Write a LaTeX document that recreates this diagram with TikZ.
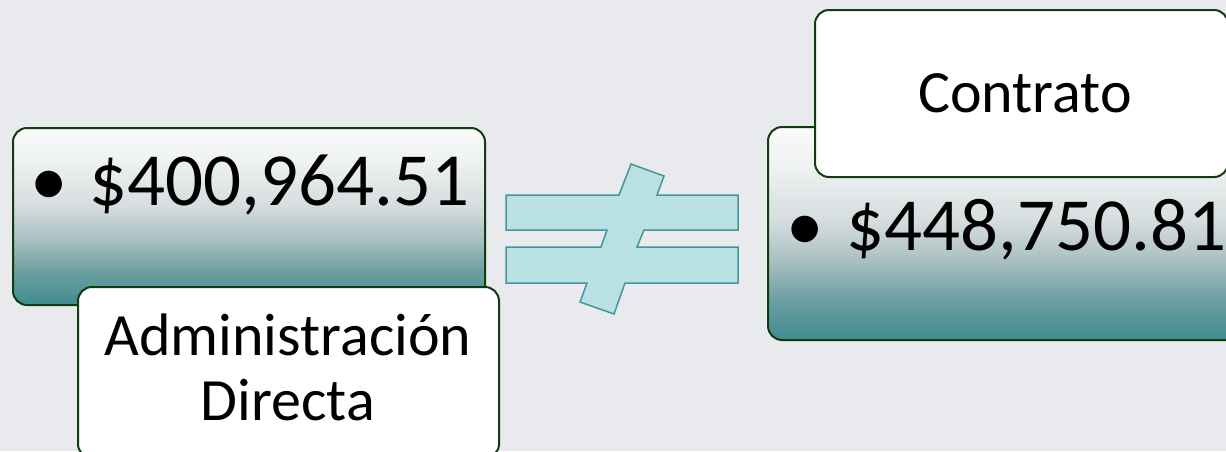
\documentclass[tikz,border=0pt]{standalone}
\usepackage{fontspec}
\setmainfont{Carlito}
\definecolor{bg}{HTML}{E8EAED}
\definecolor{bordergreen}{HTML}{103C10}
\definecolor{neqfill}{HTML}{B9E0E3}
\definecolor{neqline}{HTML}{45969B}
\definecolor{gA}{HTML}{3F8C90}
\definecolor{gB}{HTML}{6FA0A3}
\definecolor{gC}{HTML}{A9BFC1}
\definecolor{gD}{HTML}{D5DDDE}
\definecolor{gE}{HTML}{EFF2F2}
\definecolor{gF}{HTML}{FAFBFB}
\pgfdeclareverticalshading{boxgrad}{100bp}{color(0bp)=(gA); color(25bp)=(gA); color(35bp)=(gB); color(43.5bp)=(gC); color(53bp)=(gD); color(66bp)=(gE); color(75bp)=(gF); color(100bp)=(gF)}
\begin{document}
\begin{tikzpicture}[x=1pt,y=-1pt,
  greenbox/.style={rounded corners=14pt, shading=boxgrad, draw=bordergreen, line width=2pt},
  whitebox/.style={rounded corners=14pt, fill=white, draw=bordergreen, line width=2pt},
  amount/.style={font=\fontsize{75}{80}\selectfont, inner sep=0pt, anchor=base west},
  label/.style={font=\fontsize{60}{65}\selectfont, inner sep=0pt, anchor=base},
  neq/.style={fill=neqfill, draw=neqline, line width=1.5pt, line join=miter}]
\useasboundingbox (0,0) rectangle (1226,451);
\fill[bg] (0,0) rectangle (1226,451);
% left group
\path[greenbox] (13,128) rectangle (485,305);
\node[amount] (bulletL) at (30,205) {•};
\node[amount] (amountL) at (89,205) {\$400,964.51};
\path[whitebox] (78,287) rectangle (499,458);
\node[label] (adminA) at (288,355) {Administración};
\node[label] (adminB) at (288,420) {Directa};
% not equal sign
\path[neq] (506,195) -- (619,195) -- (631,164) -- (664,176) -- (657,195) -- (738,195)
  -- (738,230) -- (644,230) -- (637,247) -- (738,247) -- (738,283) -- (625,283)
  -- (614,314) -- (580,302) -- (587,283) -- (506,283) -- (506,247) -- (601,247)
  -- (607,230) -- (506,230) -- cycle;
% right group
\path[greenbox] (768,127) rectangle (1240,340);
\node[amount] (bulletR) at (786,250) {•};
\node[amount] (amountR) at (846,250) {\$448,750.81};
\path[whitebox] (815,10) rectangle (1228,177);
\node[label] (contrato) at (1025,112) {Contrato};
\end{tikzpicture}
\end{document}
